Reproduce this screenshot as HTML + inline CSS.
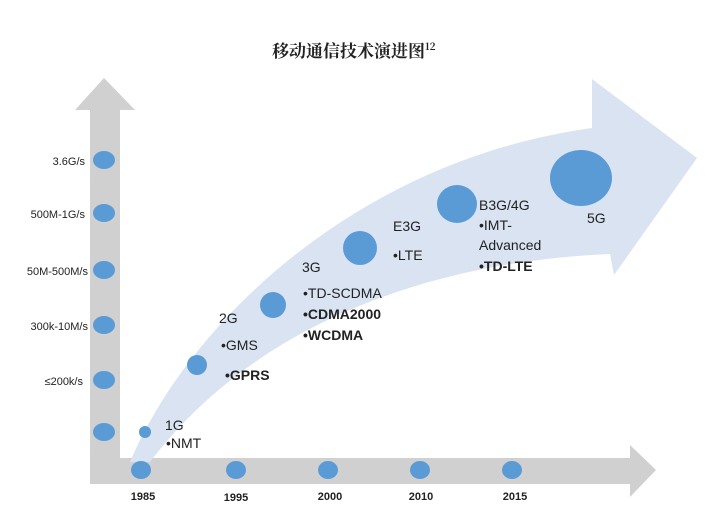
<!DOCTYPE html>
<html><head><meta charset="utf-8"><style>
body{margin:0;background:#fff}
svg{display:block}
text{font-family:"Liberation Sans","Noto Sans CJK SC",sans-serif;fill:#222}
</style></head><body>
<svg width="725" height="519" viewBox="0 0 725 519">
<rect width="725" height="519" fill="#fff"/>
<text x="272" y="57" font-size="17" font-weight="bold" style="font-family:'Noto Serif CJK SC',serif">移动通信技术演进图<tspan font-size="10" dy="-7">12</tspan></text>
<polygon points="90,484 90,110 75,110 104,78 135,110 120,110 120,458 630,458 630,445 656,470 630,497 630,484" fill="#d0d0d0"/>
<path d="M130,462 C190,320 360,160 592,128 L592,79 L697,158 L614,275 L610,254 C420,262 250,330 150,462 Z" fill="#d9e3f2"/>
<g fill="#5b9bd5">
<ellipse cx="104" cy="160" rx="11" ry="9"/>
<ellipse cx="104" cy="213" rx="11" ry="9"/>
<ellipse cx="104" cy="270" rx="11" ry="9"/>
<ellipse cx="104" cy="325" rx="11" ry="9"/>
<ellipse cx="104" cy="380" rx="11" ry="9"/>
<ellipse cx="104" cy="432" rx="11" ry="9"/>
<ellipse cx="141" cy="470" rx="10" ry="9"/>
<ellipse cx="236" cy="470" rx="10" ry="9"/>
<ellipse cx="328" cy="470" rx="10" ry="9"/>
<ellipse cx="420" cy="470" rx="10" ry="9"/>
<ellipse cx="512" cy="470" rx="10" ry="9"/>
<ellipse cx="145" cy="432" rx="6" ry="6"/>
<ellipse cx="197" cy="365" rx="10" ry="10"/>
<ellipse cx="273" cy="305" rx="13" ry="13"/>
<ellipse cx="360" cy="248" rx="17" ry="17"/>
<ellipse cx="457" cy="204" rx="20" ry="19"/>
<ellipse cx="581" cy="178" rx="31" ry="28"/>
</g>
<g font-size="11" text-anchor="end">
<text x="85" y="165">3.6G/s</text>
<text x="85" y="218">500M-1G/s</text>
<text x="88" y="275">50M-500M/s</text>
<text x="88" y="330">300k-10M/s</text>
<text x="83" y="385">≤200k/s</text>
</g>
<g font-size="11" font-weight="bold" text-anchor="middle">
<text x="143" y="500">1985</text>
<text x="236" y="501">1995</text>
<text x="330" y="500">2000</text>
<text x="421" y="500">2010</text>
<text x="515" y="500">2015</text>
</g>
<g font-size="14">
<text x="165" y="430">1G</text>
<text x="166" y="448">•NMT</text>
<text x="219" y="323">2G</text>
<text x="221" y="350">•GMS</text>
<text x="225" y="380" font-weight="bold">•GPRS</text>
<text x="302" y="272">3G</text>
<text x="303" y="298">•TD-SCDMA</text>
<text x="303" y="319" font-weight="bold">•CDMA2000</text>
<text x="303" y="340" font-weight="bold">•WCDMA</text>
<text x="393" y="231">E3G</text>
<text x="393" y="260">•LTE</text>
<text x="479" y="210">B3G/4G</text>
<text x="479" y="230">•IMT-</text>
<text x="479" y="250">Advanced</text>
<text x="479" y="271" font-weight="bold">•TD-LTE</text>
<text x="587" y="223">5G</text>
</g>
</svg>
</body></html>
